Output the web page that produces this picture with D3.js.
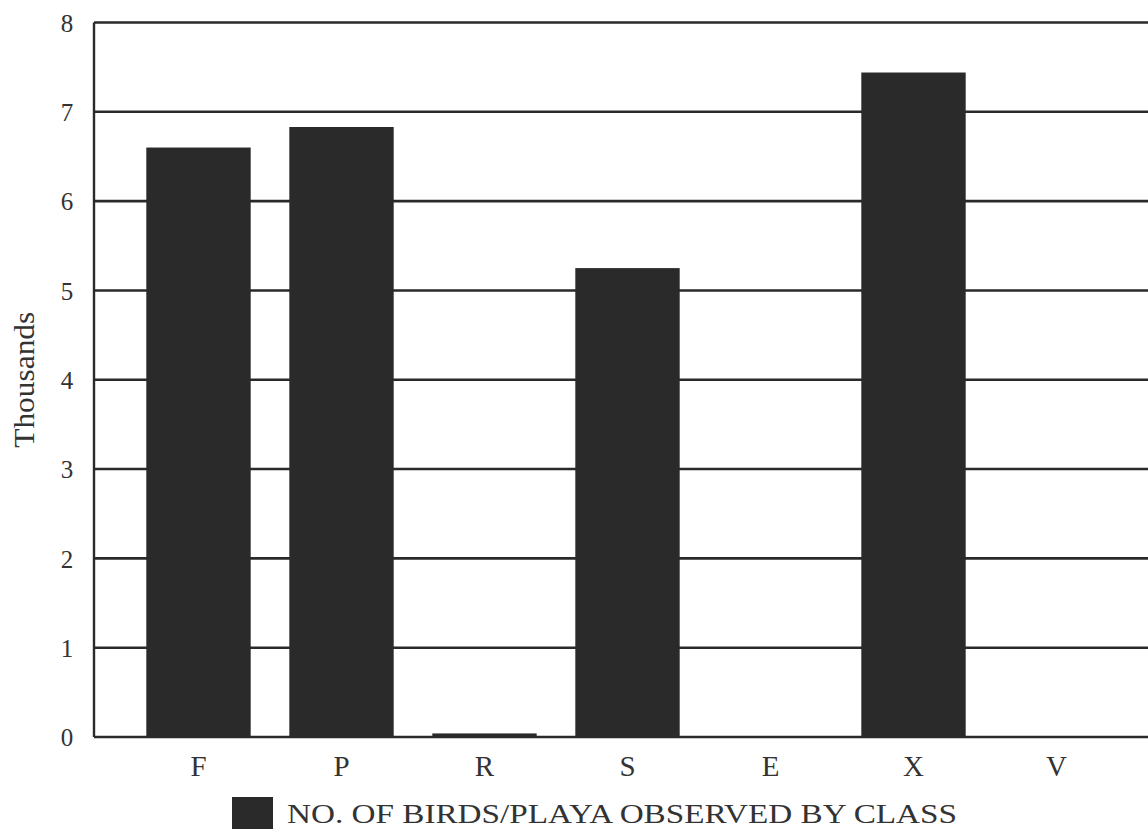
<!DOCTYPE html>
<html>
<head>
<meta charset="utf-8">
<script src="https://cdn.jsdelivr.net/npm/d3@7"></script>
<style>
  html, body { margin: 0; padding: 0; background: #fff; }
  svg { display: block; }
  text { font-family: "Liberation Serif", "DejaVu Serif", serif; fill: #333; }
</style>
</head>
<body>
<svg id="chart" width="1148" height="837"></svg>
<script>
// Bird counts per playa class, in thousands
const classes = ["F", "P", "R", "S", "E", "X", "V"];
const birds = [6.6, 6.83, 0.04, 5.25, 0, 7.44, 0];
const yTicks = [0, 1, 2, 3, 4, 5, 6, 7, 8];
const yLabel = "Thousands";
const legendLabel = "NO. OF BIRDS/PLAYA OBSERVED BY CLASS";

const svg = d3.select("#chart");
const ink = "#2a2a2a";

const plotLeft = 94, plotRight = 1160, plotTop = 22.5, plotBottom = 737;

const x = d3.scaleBand()
  .domain(classes)
  .range([127, 1128])
  .paddingInner(0.27)
  .paddingOuter(0.135);

const y = d3.scaleLinear()
  .domain([0, 8])
  .range([plotBottom, plotTop]);

// horizontal gridlines, including the top border and baseline
svg.append("g")
  .selectAll("line")
  .data(yTicks)
  .join("line")
  .attr("x1", plotLeft)
  .attr("x2", plotRight)
  .attr("y1", d => y(d))
  .attr("y2", d => y(d))
  .attr("stroke", ink)
  .attr("stroke-width", 2.6);

// left axis line
svg.append("line")
  .attr("x1", plotLeft).attr("x2", plotLeft)
  .attr("y1", plotTop).attr("y2", plotBottom)
  .attr("stroke", ink)
  .attr("stroke-width", 2.4);

// bars
svg.append("g")
  .selectAll("rect")
  .data(classes.map((c, i) => ({ c, v: birds[i] })))
  .join("rect")
  .attr("x", d => x(d.c))
  .attr("width", x.bandwidth())
  .attr("y", d => y(d.v))
  .attr("height", d => y(0) - y(d.v))
  .attr("fill", ink);

// y axis tick labels
const yAxis = d3.axisLeft(y).tickValues(yTicks).tickSize(0).tickPadding(0);
const gy = svg.append("g")
  .attr("transform", `translate(${plotLeft - 18},0)`)
  .call(yAxis);
gy.select(".domain").remove();
gy.selectAll("text")
  .style("font-family", "'Liberation Serif', serif")
  .style("font-size", "25px")
  .attr("fill", "#333")
  .attr("text-anchor", "middle")
  .attr("x", -9)
  .attr("dy", "0.35em");

// x axis category labels
const xAxis = d3.axisBottom(x).tickSize(0).tickPadding(0);
const gx = svg.append("g")
  .attr("transform", `translate(0,${plotBottom + 18})`)
  .call(xAxis);
gx.select(".domain").remove();
gx.selectAll("text")
  .style("font-family", "'Liberation Serif', serif")
  .style("font-size", "29px")
  .attr("fill", "#333")
  .attr("dy", "0.71em");

// y axis title
svg.append("text")
  .attr("transform", `translate(34,${(plotTop + plotBottom) / 2}) rotate(-90)`)
  .attr("text-anchor", "middle")
  .attr("textLength", 136)
  .attr("lengthAdjust", "spacingAndGlyphs")
  .style("font-size", "29px")
  .text(yLabel);

// legend
svg.append("rect")
  .attr("x", 232).attr("y", 797)
  .attr("width", 41).attr("height", 32)
  .attr("fill", ink);
svg.append("text")
  .attr("x", 287).attr("y", 823)
  .attr("textLength", 670)
  .attr("lengthAdjust", "spacingAndGlyphs")
  .style("font-size", "27px")
  .text(legendLabel);
</script>
</body>
</html>
